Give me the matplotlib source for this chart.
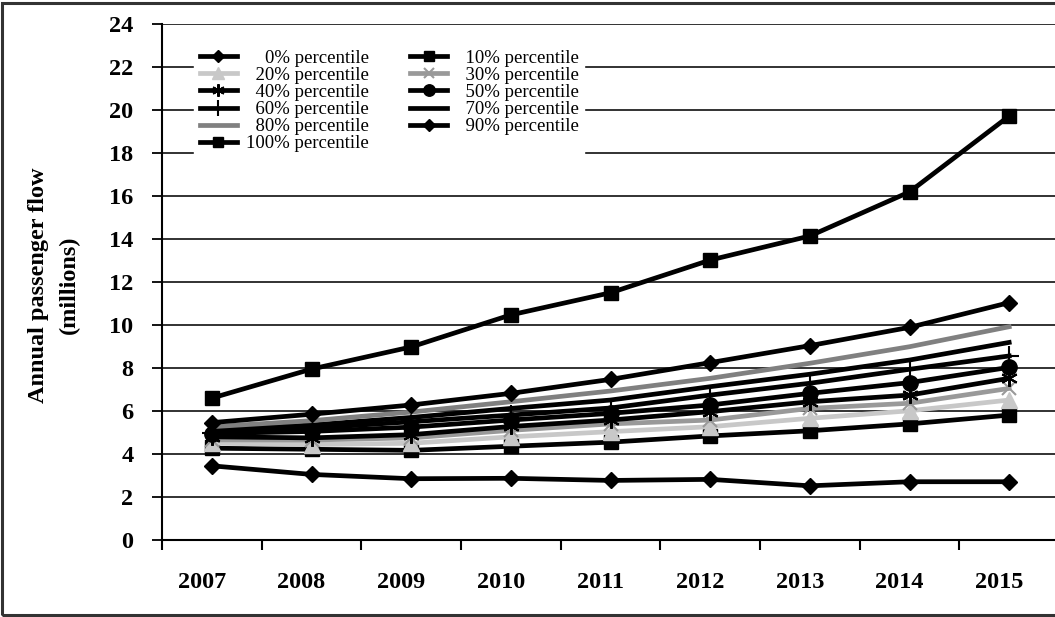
import matplotlib
matplotlib.use("Agg")
import matplotlib.pyplot as plt
import matplotlib.transforms as mtransforms
from matplotlib.patches import Rectangle
import numpy as np

plt.rcParams['font.family'] = ['Liberation Serif', 'DejaVu Serif']

years = ['2007', '2008', '2009', '2010', '2011', '2012', '2013', '2014', '2015']

p0 = [3.45, 3.05, 2.85, 2.87, 2.77, 2.82, 2.52, 2.71, 2.71]
p10 = [4.27, 4.22, 4.17, 4.36, 4.55, 4.84, 5.08, 5.40, 5.81]
p20 = [4.50, 4.44, 4.50, 4.80, 5.04, 5.27, 5.66, 6.01, 6.51]
p30 = [4.66, 4.65, 4.75, 5.10, 5.40, 5.58, 6.12, 6.36, 7.05]
p40 = [4.80, 4.75, 4.90, 5.28, 5.58, 5.97, 6.43, 6.74, 7.52]
p50 = [4.95, 5.05, 5.25, 5.58, 5.89, 6.28, 6.82, 7.32, 8.03]
p60 = [4.98, 5.20, 5.50, 5.81, 6.14, 6.74, 7.29, 7.94, 8.56]
p70 = [5.12, 5.35, 5.70, 6.12, 6.51, 7.13, 7.71, 8.37, 9.19]
p80 = [5.27, 5.55, 5.95, 6.43, 6.93, 7.52, 8.22, 8.99, 9.92]
p90 = [5.46, 5.85, 6.28, 6.82, 7.47, 8.25, 9.04, 9.89, 11.04]
p100 = [6.60, 7.95, 8.98, 10.47, 11.50, 13.02, 14.14, 16.19, 19.72]

# (label, values, colour, marker, markersize)
series = [
    ('    0% percentile', p0, 'black', 'D', 8.5),
    ('  10% percentile', p10, 'black', 's', 10.5),
    ('  20% percentile', p20, '#c8c8c8', '^', 11),
    ('  30% percentile', p30, '#999999', 'x', 10),
    ('  40% percentile', p40, 'black', (6, 2, 0), 12),
    ('  50% percentile', p50, 'black', 'o', 11),
    ('  60% percentile', p60, 'black', '+', 15),
    ('  70% percentile', p70, 'black', None, 0),
    ('  80% percentile', p80, '#808080', None, 0),
    ('  90% percentile', p90, 'black', 'D', 8.5),
    ('100% percentile', p100, 'black', 's', 10.5),
]

W, H = 1055, 617
fig = plt.figure(figsize=(W / 100, H / 100), dpi=100)
ax = fig.add_axes([162 / W, 77 / H, 897 / W, 516 / H])

x = np.arange(len(years))
lines = []
for label, vals, col, mk, ms in series:
    ln, = ax.plot(x, vals, color=col, lw=3.4, marker=mk, markersize=ms,
                  markeredgewidth=1.5 if mk in ('x', '+', (6, 2, 0)) else 1,
                  markerfacecolor=col, markeredgecolor=col, label=label,
                  solid_joinstyle='miter', clip_on=False)
    lines.append(ln)

ax.set_xlim(-0.5, len(years) - 0.5)
ax.set_ylim(0, 24)
ax.set_yticks(np.arange(0, 25, 2))
ax.yaxis.grid(True, color='#222222', lw=1.3)
ax.set_axisbelow(True)

ax.set_xticks(x)
ax.set_xticklabels(years, fontsize=17.5, fontweight='bold')
ax.set_xticks(np.arange(-0.5, len(years) - 0.5, 1), minor=True)
ax.tick_params(axis='x', which='major', length=0, pad=23)
ax.tick_params(axis='x', which='minor', length=7, width=1.5, direction='out')
shift = mtransforms.ScaledTranslation(-10 / 100, 0, fig.dpi_scale_trans)
for t in ax.get_xticklabels():
    t.set_transform(t.get_transform() + shift)

ax.tick_params(axis='y', length=7.5, width=1.3, direction='out', pad=13,
               labelsize=17.5)
for t in ax.get_yticklabels():
    t.set_fontweight('bold')

for s in ('top', 'right'):
    ax.spines[s].set_visible(False)
ax.spines['left'].set_linewidth(1.5)
ax.spines['bottom'].set_linewidth(1.5)

fig.text(54 / W, 1 - 285 / H, 'Annual passenger flow\n(millions)',
         rotation=90, ha='center', va='center', fontsize=17.5,
         fontweight='bold', linespacing=1.6)

order = [0, 2, 4, 6, 8, 10, 1, 3, 5, 7, 9]
leg = ax.legend([lines[i] for i in order], [series[i][0] for i in order],
                ncol=2, loc='upper left',
                bbox_to_anchor=(194 / W, 1 - 44 / H),
                bbox_transform=fig.transFigure,
                fontsize=13.5, labelspacing=0.0, handlelength=2.0,
                handletextpad=0.45, columnspacing=2.2, borderpad=0.3,
                borderaxespad=0, markerscale=0.75,
                frameon=True, fancybox=False)
leg.get_frame().set_facecolor('white')
leg.get_frame().set_edgecolor('white')
leg.get_frame().set_alpha(1)

fig.patches.append(Rectangle((1.5 / W, 2.5 / H), 1.2, 1 - 5 / H,
                             transform=fig.transFigure, fill=False,
                             edgecolor='#333333', lw=2.2))

fig.savefig('out.png', dpi=100)
